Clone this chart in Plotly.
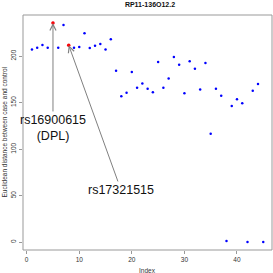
import plotly.graph_objects as go

index = list(range(1, 46))
distance = [207, 209, 212, 209, 235.5, 209, 233.4, 211.6, 209, 209.8,
            224.5, 208.7, 211.2, 213, 207, 218, 184.3, 156.8, 160.7, 183,
            166, 170.4, 165, 161, 193.7, 166, 176, 199, 190.8, 160,
            194.4, 186.5, 164, 192.6, 116.5, 165, 157.5, 1.4, 146.4, 153.6,
            149.3, 0.3, 162.8, 170, 0.3]
highlight_idx = [5, 8]
highlight_labels = ["rs16900615<br>(DPL)", "rs17321515"]
label_pos = [(5, 122.8), (17.94, 56.2)]
x_ticks = [0, 10, 20, 30, 40]
y_ticks = [0, 50, 100, 150, 200]
title = "RP11-136O12.2"
x_title = "Index"
y_title = "Euclidean distance between case and control"

FONT = "Liberation Sans, Arial, sans-serif"

fig = go.Figure()
fig.add_trace(go.Scatter(x=index, y=distance, mode="markers", cliponaxis=False,
                         marker=dict(color="#0000FF", size=2.5, line=dict(width=0)),
                         showlegend=False, hoverinfo="skip"))
hx = highlight_idx
hy = [distance[i - 1] for i in highlight_idx]
fig.add_trace(go.Scatter(x=hx, y=hy, mode="markers", cliponaxis=False,
                         marker=dict(color="#FF0000", size=3.5, line=dict(width=0)),
                         showlegend=False, hoverinfo="skip"))

for (px, py), lab, xi, yi in zip(label_pos, highlight_labels, hx, hy):
    fig.add_annotation(x=xi, y=yi, ax=px, ay=py, axref="x", ayref="y",
                       xref="x", yref="y", text=lab, showarrow=True,
                       arrowhead=5, arrowsize=1.2, arrowwidth=1, arrowcolor="#808080",
                       font=dict(family=FONT, size=12.5, color="#111111"))

fig.add_shape(type="rect", xref="paper", yref="paper", x0=0, y0=0, x1=1, y1=1,
              line=dict(color="#999999", width=1))

fig.add_annotation(xref="paper", yref="paper", x=0.5, y=0, yanchor="middle",
                   yshift=-20, text=x_title, showarrow=False,
                   font=dict(family=FONT, size=6.5, color="#333333"))
fig.add_annotation(xref="paper", yref="paper", x=0, y=0.5, xanchor="center",
                   xshift=-19, text=y_title, textangle=-90, showarrow=False,
                   font=dict(family=FONT, size=6.5, color="#333333"))

fig.update_layout(
    width=273, height=273,
    margin=dict(l=23, r=1, t=15, b=23, autoexpand=False),
    paper_bgcolor="white", plot_bgcolor="white",
    title=dict(text="<b>" + title + "</b>", x=150 / 273, y=1 - 4.5 / 273,
               xanchor="center", yanchor="middle", xref="container", yref="container",
               font=dict(family=FONT, size=7, color="#111111")),
    xaxis=dict(range=[-0.70, 46.66], tickvals=x_ticks, ticks="outside", ticklen=3,
               tickcolor="#999999", showgrid=False, zeroline=False, showline=False,
               automargin=False,
               tickfont=dict(family=FONT, size=6.5, color="#333333")),
    yaxis=dict(range=[-8.3, 244.1], tickvals=y_ticks, ticks="outside", ticklen=3,
               tickcolor="#999999", showgrid=False, zeroline=False, showline=False,
               tickangle=-90, automargin=False,
               tickfont=dict(family=FONT, size=6.5, color="#333333")),
)

fig.write_html("out.html", config={"displayModeBar": False},
               post_script="document.body.style.margin='0';document.body.style.overflow='hidden';")
